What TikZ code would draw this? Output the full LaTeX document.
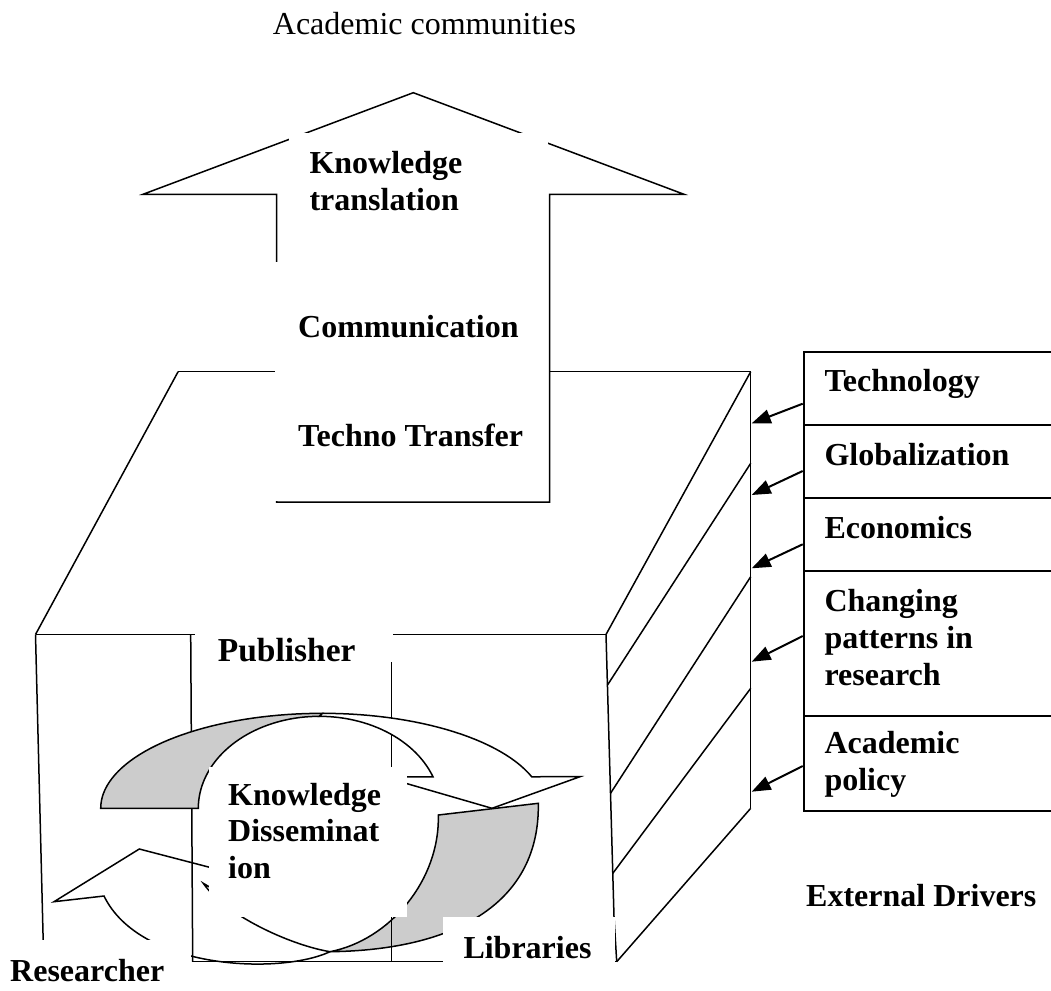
\documentclass[tikz,border=0pt]{standalone}
\usepackage{fontspec}
\setmainfont{Liberation Serif}
\usetikzlibrary{arrows.meta}
\definecolor{bandgray}{RGB}{204,204,204}
\newcommand{\lblfont}{\fontsize{32}{36.7}\selectfont}

\begin{document}
\begin{tikzpicture}[x=1pt,y=-1pt,
  edge/.style={line width=1.5pt},
  cover/.style={fill=white, draw=none},
  lbl/.style={anchor=base west, inner sep=0pt, font=\lblfont\bfseries},
  plainlbl/.style={anchor=base west, inner sep=0pt, font=\lblfont},
  driverrow/.style={draw, line width=2pt, anchor=north west, minimum width=280pt, inner sep=0pt},
  drv/.style={line width=2pt, -{Triangle[length=19pt,width=14pt]}},
  band/.style={edge, fill=bandgray},
  front/.style={edge, fill=white}]
\useasboundingbox (0,0) rectangle (1051,990);
\clip (0,0) rectangle (1051,990);

% lower cycle arrow: shaded back on the right, front part ending at the left
\draw[band] (438.3,815) -- (538.3,803.3)
  .. controls (540,900) and (460,950) .. (330,951.7)
  .. controls (390,940) and (440,880) .. (438.3,815) -- cycle;
\draw[front] (330,951.7) .. controls (280,975) and (140,970) .. (104,896)
  -- (54,901.7) -- (139.3,849) -- (240,875.2) -- (240,905) -- (203.3,883.3)
  .. controls (225,915) and (290,945) .. (330,951.7) -- cycle;

% the block: top face, front face and the striped side face
\draw[edge] (178.1,371.7) -- (750.7,371.7);
\draw[edge] (178.1,371.7) -- (35.5,634.5);
\draw[edge] (750.7,371.7) -- (606,634.5);
\draw[edge] (35.5,634.5) -- (606,634.5);
\draw[edge] (35.5,634.5) -- (43.3,945);
\draw[edge] (190.7,634.5) -- (192.7,961.7);
\draw[edge] (391.7,634.5) -- (391.7,961.7);
\draw[edge] (191.9,961.7) -- (616.7,961.7);
\draw[edge] (606,634.5) -- (614,916.7) -- (616.7,961.7);
\draw[edge] (750.7,371.7) -- (750.7,808.3);
\draw[edge] (616.7,961.7) -- (750.7,808.3);
\draw[edge] (607.5,685) -- (750.7,463.3);
\draw[edge] (610.5,793.3) -- (750.7,576.7);
\draw[edge] (612.8,873.3) -- (750.7,688.3);

% upper cycle arrow: shaded back on the left, front part with its head
\draw[band] plot[domain=180:270,samples=40] ({322.5+221.8*cos(\x)},{808.3+95*sin(\x)})
  -- plot[domain=270:180,samples=40] ({319.3+121*cos(\x)},{808.3+92*sin(\x)}) -- cycle;
\draw[front] plot[domain=270:340.6,samples=30] ({322.5+221.8*cos(\x)},{808.3+95*sin(\x)})
  -- (580,776.7) -- (492,808.3) -- (383,776.7)
  -- plot[domain=340:270,samples=30] ({319.3+121*cos(\x)},{808.3+92*sin(\x)}) -- cycle;

% big upward arrow out of the block
\draw[front] (276.7,502) -- (276.7,194.3) -- (143,194.3) -- (413.3,92.7)
  -- (684,194.3) -- (549.6,194.3) -- (549.6,502) -- cycle;

% white grounds behind the labels
\fill[cover] (289.3,133.3) rectangle (547.7,261.7);
\fill[cover] (275,261.7) rectangle (548,500.5);
\fill[cover] (195,612) rectangle (393,661.7);
\fill[cover] (209.3,766.7) rectangle (406.7,916.7);
\fill[cover] (443.3,916.7) rectangle (614.8,990);
\fill[cover] (0,940) rectangle (191,990);

% labels
\node[plainlbl] (community) at (272.7,34.3) {Academic communities};
\node[lbl] (ktrans) at (309.3,173.3) {\begin{tabular}[t]{@{}l@{}}Knowledge\\translation\end{tabular}};
\node[lbl] (comm) at (298,337.3) {Communication};
\node[lbl] (techno) at (298,446.7) {Techno Transfer};
\node[lbl, font=\fontsize{33.5}{36.7}\selectfont\bfseries] (pub) at (217.6,661) {Publisher};
\node[lbl] (kdiss) at (228,805) {\begin{tabular}[t]{@{}l@{}}Knowledge\\Disseminat\\ion\end{tabular}};
\node[lbl] (lib) at (463.3,958.3) {Libraries};
\node[lbl] (res) at (10,981.7) {Researcher};
\node[lbl] (ext) at (806,906.7) {External Drivers};

% external drivers column
\node[driverrow, minimum height=73.3pt] (tech) at (802.7,350.7) {};
\node[driverrow, minimum height=73.3pt] (glob) at (802.7,424) {};
\node[driverrow, minimum height=72.7pt] (econ) at (802.7,497.3) {};
\node[driverrow, minimum height=145pt] (chng) at (802.7,570) {};
\node[driverrow, minimum height=95pt] (acpol) at (802.7,715) {};

\node[lbl] (techtxt) at (824.3,391.7) {Technology};
\node[lbl] (globtxt) at (824.3,465) {Globalization};
\node[lbl] (econtxt) at (824.3,538.3) {Economics};
\node[lbl] (chngtxt) at (824.3,611.7) {\begin{tabular}[t]{@{}l@{}}Changing\\patterns in\\research\end{tabular}};
\node[lbl] (acpoltxt) at (824.3,753.3) {\begin{tabular}[t]{@{}l@{}}Academic\\policy\end{tabular}};

% driver arrows onto the side face
\coordinate (t1) at (751.7,423.3);
\coordinate (t2) at (751.7,495);
\coordinate (t3) at (751.7,568.3);
\coordinate (t4) at (751.7,661.7);
\coordinate (t5) at (751.7,791.7);
\draw[drv] ([shift={(0,15.35)}]tech.west) -- (t1);
\draw[drv] ([shift={(0,9.35)}]glob.west) -- (t2);
\draw[drv] ([shift={(0,9.65)}]econ.west) -- (t3);
\draw[drv] ([shift={(0,-7.5)}]chng.west) -- (t4);
\draw[drv] ([shift={(0,2.5)}]acpol.west) -- (t5);
\end{tikzpicture}
\end{document}
